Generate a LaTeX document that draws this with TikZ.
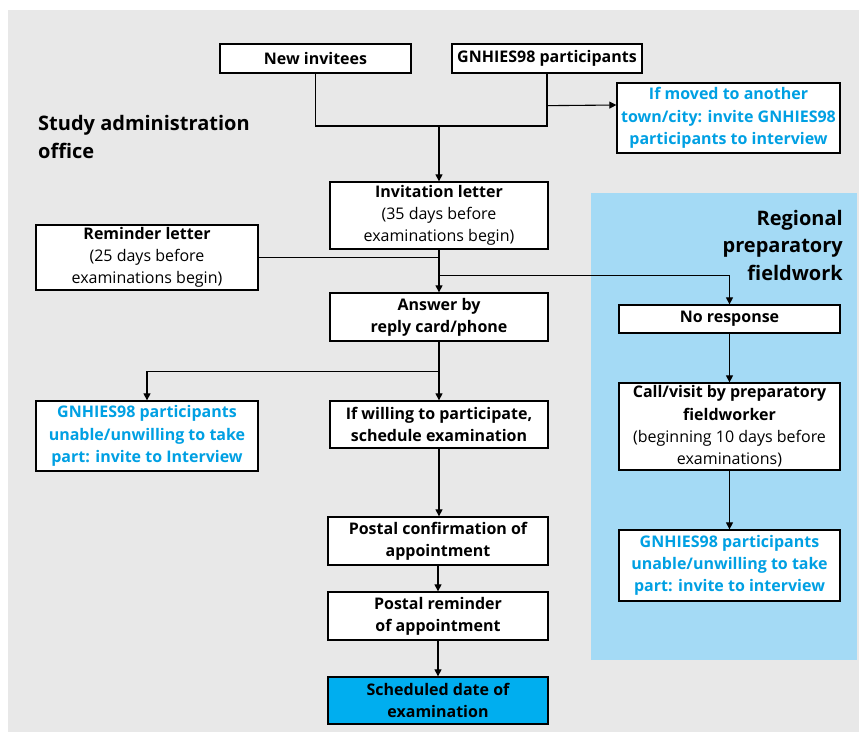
\documentclass[tikz,border=0pt]{standalone}
\usepackage{fontspec}
\setmainfont{Open Sans}
\usetikzlibrary{calc,arrows.meta}

\definecolor{bggray}{RGB}{232,232,232}
\definecolor{fieldblue}{RGB}{164,218,245}
\definecolor{notecyan}{RGB}{0,160,227}
\definecolor{datecyan}{RGB}{0,174,239}

\tikzset{
  box/.style={draw,line width=1.3pt,fill=white,inner sep=0pt,align=center,
    font=\fontsize{16}{22.3}\selectfont\bfseries},
  note/.style={box,text=notecyan},
  head/.style={inner sep=0pt,font=\fontsize{20}{27.5}\selectfont\bfseries},
  line/.style={line width=1.1pt},
  arr/.style={line,-{Triangle[length=7pt,width=7pt]}}
}

\begin{document}
\begin{tikzpicture}[x=1pt,y=-1pt]
\useasboundingbox (0,0) rectangle (859,732);
\fill[bggray] (8,10) rectangle (859,732);
\fill[fieldblue] (591,193) rectangle (857,660);

\node[head,align=left,anchor=west] (office) at (38,137) {Study administration\\office};
\node[head,align=right,anchor=east] (field) at (843,245) {Regional\\preparatory\\fieldwork};

\node[box,minimum width=191pt,minimum height=29pt] (newinv) at (315.5,58.5) {New invitees};
\node[box,minimum width=190pt,minimum height=29pt] (gnpart) at (547,58.5) {GNHIES98 participants};
\node[note,minimum width=223pt,minimum height=70pt] (moved) at (728.5,118) {If moved to another\\town/city: invite GNHIES98\\participants to interview};

\node[box,minimum width=218pt,minimum height=67pt] (invite) at (439,215.5) {Invitation letter\\{\mdseries (35 days before}\\{\mdseries examinations begin)}};
\node[box,minimum width=222pt,minimum height=65pt] (remind) at (147,257.5) {Reminder letter\\{\mdseries (25 days before}\\{\mdseries examinations begin)}};
\node[box,minimum width=218pt,minimum height=48pt] (answer) at (439,317) {Answer by\\reply card/phone};

\node[box,minimum width=221pt,minimum height=28pt] (noresp) at (729.5,319) {No response};
\node[box,minimum width=221pt,minimum height=87pt] (callvisit) at (729.5,426.5) {Call/visit by preparatory\\fieldworker\\{\mdseries (beginning 10 days before}\\{\mdseries examinations)}};
\node[note,minimum width=221pt,minimum height=71pt] (unableR) at (729.5,565.5) {GNHIES98 participants\\unable/unwilling to take\\part: invite to interview};

\node[note,minimum width=222pt,minimum height=70pt] (unableL) at (147,436) {GNHIES98 participants\\unable/unwilling to take\\part: invite to Interview};
\node[box,minimum width=218pt,minimum height=47pt] (willing) at (439,424.5) {If willing to participate,\\schedule examination};
\node[box,minimum width=220pt,minimum height=48pt] (confirm) at (438,541) {Postal confirmation of\\appointment};
\node[box,minimum width=220pt,minimum height=48pt] (postrem) at (438,616) {Postal reminder\\of appointment};
\node[box,fill=datecyan,minimum width=220pt,minimum height=47pt] (examdate) at (438,700.5) {Scheduled date of\\examination};

% top merge
\coordinate (merge) at (439,126);
\draw[line] (newinv.south) |- (merge) -| (gnpart.south);
\draw[arr] (merge) -- (invite.north);
\draw[arr] ($(gnpart.south)+(0,32)$) -- ($(moved.west)+(0,-13)$);

% letters
\draw[line] (remind.east) -- (remind.east -| invite.south);
\draw[arr] (invite.south) -- (answer.north);
\draw[arr] ($(invite.south)+(0,26)$) -| (noresp.north);

% answers
\draw[arr] (answer.south) -- (willing.north);
\draw[arr] ($(answer.south)+(0,30)$) -| (unableL.north);
\draw[arr] (willing.south) -- (willing.south |- confirm.north);
\draw[arr] (confirm.south) -- (postrem.north);
\draw[arr] (postrem.south) -- (examdate.north);

% fieldwork
\draw[arr] (noresp.south) -- (callvisit.north);
\draw[arr] (callvisit.south) -- (unableR.north);
\end{tikzpicture}
\end{document}
